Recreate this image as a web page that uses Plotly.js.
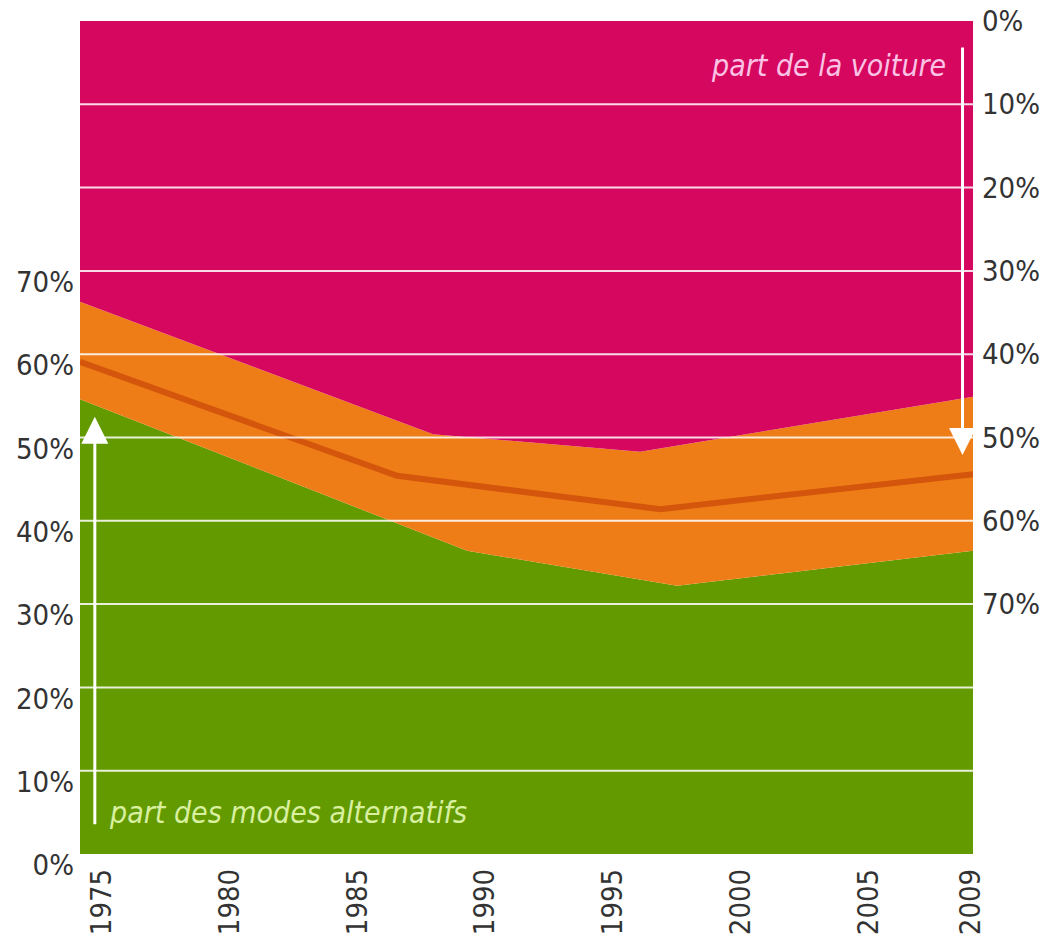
<!DOCTYPE html>
<html>
<head>
<meta charset="utf-8">
<script src="https://cdn.plot.ly/plotly-3.0.1.min.js"></script>
<style>html,body{margin:0;padding:0;background:#fff;}#chart{width:1049px;height:937px;}</style>
</head>
<body>
<div id="chart"></div>
<script>
// ---- data ----
const xStart = 1974.15, xEnd = 2009.1;
// upper limit of the "car" band (top of chart = 100 %)
const carYears = [xStart, xEnd];
const carTop = [100, 100];
// top of the orange band (share, %)
const upperYears = [xStart, 1987.97, 1996.07, xEnd];
const upperShare = [66.3, 50.4, 48.3, 54.9];
// central estimate line (share, %)
const midYears = [xStart, 1986.56, 1996.86, xEnd];
const midShare = [59.1, 45.4, 41.4, 45.6];
// top of the green area: share of alternative modes (%)
const lowerYears = [xStart, 1989.3, 1997.52, xEnd];
const lowerShare = [54.6, 36.4, 32.2, 36.4];
// car share measured from the top (right axis), chart edges
const carShareEdge = [0, 0];

const xTickVals = [1975, 1980, 1985, 1990, 1995, 2000, 2005, 2009];
const xTickText = ['1975', '1980', '1985', '1990', '1995', '2000', '2005', '2009'];
const leftTicks = [0, 10, 20, 30, 40, 50, 60, 70];
const leftTickText = ['0%', '10%', '20%', '30%', '40%', '50%', '60%', '70%'];
const rightTicks = [0, 10, 20, 30, 40, 50, 60, 70];
const rightTickText = ['0%', '10%', '20%', '30%', '40%', '50%', '60%', '70%'];
const gridVals = [10, 20, 30, 40, 50, 60, 70, 80, 90];
const labelCar = 'part de la voiture';
const labelAlt = 'part des modes alternatifs';

// ---- styles ----
const GREEN = '#639A00', ORANGE = '#EE7C17', MAGENTA = '#D6075F', LINE = '#D4560C';
const FONT = '"DejaVu Sans Condensed", "Liberation Sans", "DejaVu Sans", sans-serif';

const traces = [
  {x: lowerYears, y: lowerShare, type: 'scatter', mode: 'lines', fill: 'tozeroy',
   fillcolor: GREEN, line: {width: 0, color: GREEN}, hoverinfo: 'skip', showlegend: false},
  {x: upperYears, y: upperShare, type: 'scatter', mode: 'lines', fill: 'tonexty',
   fillcolor: ORANGE, line: {width: 0, color: ORANGE}, hoverinfo: 'skip', showlegend: false},
  {x: carYears, y: carTop, type: 'scatter', mode: 'lines', fill: 'tonexty',
   fillcolor: MAGENTA, line: {width: 0, color: MAGENTA}, hoverinfo: 'skip', showlegend: false},
  {x: midYears, y: midShare, type: 'scatter', mode: 'lines',
   line: {width: 6, color: LINE}, hoverinfo: 'skip', showlegend: false},
  // helper so that the right-hand (reversed) axis is drawn
  {x: carYears, y: carShareEdge, yaxis: 'y2', type: 'scatter', mode: 'lines',
   line: {width: 0, color: 'rgba(0,0,0,0)'}, opacity: 0, hoverinfo: 'skip', showlegend: false}
];

const shapes = gridVals.map(v => ({
  type: 'line', xref: 'paper', x0: 0, x1: 1, yref: 'y', y0: v, y1: v,
  layer: 'above', line: {color: 'rgba(255,255,255,0.85)', width: 2}
}));

const annotations = [
  {x: 1974.73, y: 52.5, ax: 1974.73, ay: 3.4, xref: 'x', yref: 'y', axref: 'x', ayref: 'y',
   text: '', showarrow: true, arrowhead: 2, arrowsize: 1.8, arrowwidth: 3, arrowcolor: '#FFFFFF', standoff: 0},
  {x: 2008.69, y: 47.9, ax: 2008.69, ay: 97, xref: 'x', yref: 'y', axref: 'x', ayref: 'y',
   text: '', showarrow: true, arrowhead: 2, arrowsize: 1.8, arrowwidth: 3, arrowcolor: '#FFFFFF', standoff: 0},
  {x: 0.972, y: 0.946, xref: 'paper', yref: 'paper', xanchor: 'right', yanchor: 'middle',
   text: '<i>' + labelCar + '</i>', showarrow: false, font: {family: FONT, size: 30, color: '#FAC3E5'}},
  {x: 0.030, y: 0.050, xref: 'paper', yref: 'paper', xanchor: 'left', yanchor: 'middle',
   text: '<i>' + labelAlt + '</i>', showarrow: false, font: {family: FONT, size: 30, color: '#D8F0A0'}}
];

const TICKFONT = {family: FONT, size: 29, color: '#333333'};
const layout = {
  width: 1049, height: 937,
  margin: {l: 80, r: 76, t: 21, b: 83, pad: 0},
  paper_bgcolor: '#FFFFFF', plot_bgcolor: '#FFFFFF',
  font: {family: FONT, size: 29, color: '#333333'},
  showlegend: false,
  xaxis: {range: [xStart, xEnd], tickvals: xTickVals, ticktext: xTickText, tickangle: -90,
          ticks: '', showgrid: false, zeroline: false, showline: false, ticklabelstandoff: 8,
          tickfont: TICKFONT, fixedrange: true},
  yaxis: {range: [0, 100], tickvals: leftTicks, ticktext: leftTickText, ticks: '',
          showgrid: false, zeroline: false, showline: false, ticklabelshift: 11, ticklabelstandoff: 5,
          tickfont: TICKFONT, fixedrange: true},
  yaxis2: {range: [100, 0], overlaying: 'y', side: 'right', tickvals: rightTicks, ticktext: rightTickText,
           ticks: '', showgrid: false, zeroline: false, showline: false, ticklabelstandoff: 8,
           tickfont: TICKFONT, fixedrange: true},
  shapes: shapes,
  annotations: annotations
};

Plotly.newPlot('chart', traces, layout, {displayModeBar: false, staticPlot: true});
</script>
</body>
</html>
